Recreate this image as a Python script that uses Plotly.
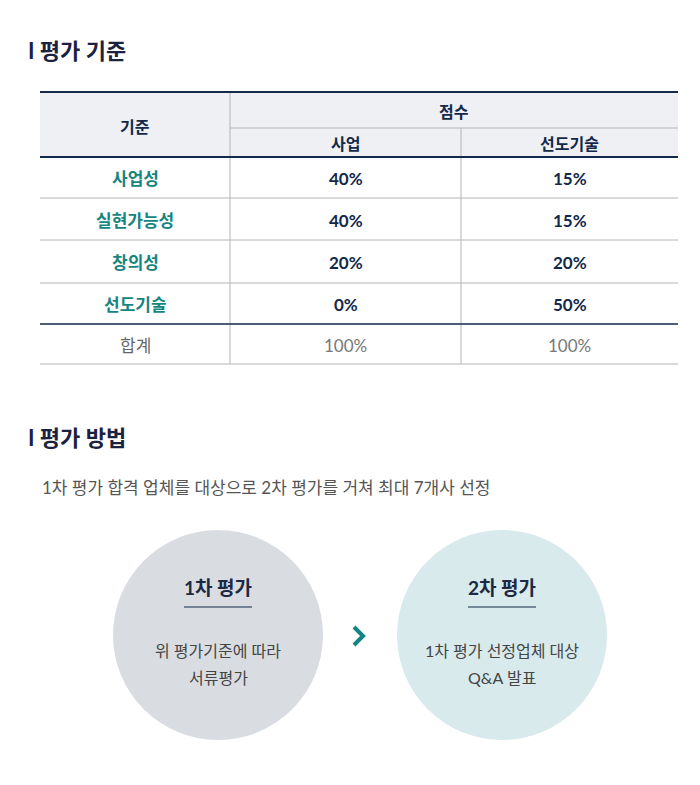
import plotly.graph_objects as go

# table data
criteria = ["사업성", "실현가능성", "창의성", "선도기술"]
biz_score = [40, 40, 20, 0]
lead_score = [15, 15, 20, 50]
col_headers = ["기준", "점수", "사업", "선도기술"]
total_label = "합계"

# evaluation steps
steps = ["1차 평가", "2차 평가"]
step_desc = [["위 평가기준에 따라", "서류평가"], ["1차 평가 선정업체 대상", "Q&A 발표"]]
step_colors = ["#d9dde1", "#d8eaeb"]

titles = ["I 평가 기준", "I 평가 방법"]
summary = "1차 평가 합격 업체를 대상으로 2차 평가를 거쳐 최대 7개사 선정"

FONT = "Lato, 'Noto Sans CJK KR', sans-serif"
NAVY = "#13294b"
TEAL = "#16857f"
GRID = "#b4b4b4"

fig = go.Figure()
shapes = []
ann = []

def text(x, y, s, size=15, color=NAVY, bold=False, xanchor="center"):
    ann.append(dict(x=x, y=y, xref="x", yref="y", text=s, showarrow=False,
                    xanchor=xanchor, yanchor="middle",
                    font=dict(family=FONT, size=size, color=color,
                              weight="bold" if bold else "normal")))

def line(x0, y0, x1, y1, color=GRID, width=1):
    shapes.append(dict(type="line", x0=x0, y0=y0, x1=x1, y1=y1, xref="x", yref="y",
                       line=dict(color=color, width=width)))

# section titles
text(26, 50, titles[0], size=22, color="#1b2240", bold=True, xanchor="left")
text(26, 437, titles[1], size=22, color="#1b2240", bold=True, xanchor="left")

# table frame
left, right = 40, 678
c1, c2 = 230, 461
shapes.append(dict(type="rect", x0=left, x1=right, y0=92, y1=157, xref="x", yref="y",
                   fillcolor="#eef0f4", line=dict(width=0), layer="below"))
line(c1, 128, right, 128)
line(c1, 92, c1, 364)
line(c2, 128, c2, 364)
row_tops = [157, 198, 240, 283, 324, 364]
for yy in row_tops[1:4]:
    line(left, yy, right, yy)
line(left, 324, right, 324, color=NAVY, width=1.3)
line(left, 364, right, 364)
line(left, 92, right, 92, color=NAVY, width=2.2)
line(left, 157, right, 157, color=NAVY, width=2.2)

xc = [(left + c1) / 2, (c1 + c2) / 2, (c2 + right) / 2]
text(xc[0], 126, col_headers[0], size=16, bold=True)
text((c1 + right) / 2, 111, col_headers[1], size=16, bold=True)
text(xc[1], 143, col_headers[2], size=16, bold=True)
text(xc[2], 143, col_headers[3], size=16, bold=True)

for i, name in enumerate(criteria):
    yc = (row_tops[i] + row_tops[i + 1]) / 2 + 1
    text(xc[0], yc, name, size=17, color=TEAL, bold=True)
    text(xc[1], yc, f"{biz_score[i]}%", size=17, bold=True)
    text(xc[2], yc, f"{lead_score[i]}%", size=17, bold=True)

yc = (row_tops[4] + row_tops[5]) / 2 + 1
text(xc[0], yc, total_label, size=17, color="#666666")
text(xc[1], yc, f"{sum(biz_score)}%", size=17, color="#777777")
text(xc[2], yc, f"{sum(lead_score)}%", size=17, color="#777777")

# method section
text(40, 487, summary, size=17, color="#555555", xanchor="left")

centers = [218, 502]
cy, r = 635, 105
for i, cx in enumerate(centers):
    shapes.append(dict(type="circle", x0=cx - r, x1=cx + r, y0=cy - r, y1=cy + r,
                       xref="x", yref="y", fillcolor=step_colors[i], line=dict(width=0),
                       layer="below"))
    text(cx, 587, steps[i], size=19, color="#1b2a44", bold=True)
    line(cx - 34, 607, cx + 34, 607, color=NAVY, width=1.2)
    text(cx, 650, step_desc[i][0], size=16, color="#444444")
    text(cx, 677, step_desc[i][1], size=16, color="#444444")

# chevron
fig.add_trace(go.Scatter(x=[354, 363, 354], y=[627, 636, 645], mode="lines",
                         line=dict(color="#0f8585", width=4), hoverinfo="skip"))

# page body has an 8px margin, so the plot spans page pixels 8..692 / 8..777
fig.update_layout(
    width=684, height=769,
    margin=dict(l=0, r=0, t=0, b=0),
    paper_bgcolor="white", plot_bgcolor="white",
    showlegend=False,
    xaxis=dict(range=[8, 692], visible=False, fixedrange=True),
    yaxis=dict(range=[777, 8], visible=False, fixedrange=True),
    shapes=shapes, annotations=ann,
)
fig.write_html("out.html")
